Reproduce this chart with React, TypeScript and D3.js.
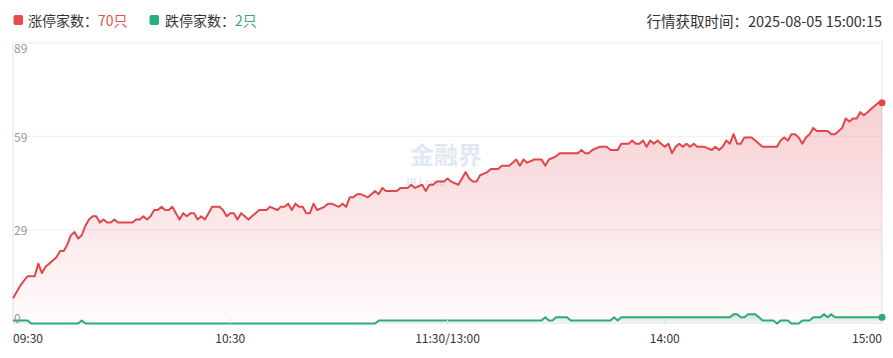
import React from "react";
import * as d3 from "d3";

// ---- data (minute index from 09:30, trading minutes 0..240) ----
const upMinutes = [0, 2, 4, 6, 7, 8, 9, 11, 12, 13, 14, 15, 16, 17, 18, 19, 20, 21, 22, 23, 24, 25, 26, 27, 28, 29, 30, 31, 33, 34, 35, 36, 37, 38, 39, 40, 41, 42, 43, 44, 45, 46, 47, 48, 49, 50, 51, 52, 53, 54, 55, 56, 57, 58, 59, 60, 61, 62, 63, 64, 65, 66, 67, 68, 69, 70, 71, 73, 74, 75, 76, 77, 78, 79, 80, 81, 82, 83, 84, 86, 87, 88, 90, 91, 92, 93, 94, 95, 96, 98, 99, 100, 101, 102, 103, 105, 106, 107, 109, 110, 111, 113, 114, 115, 116, 117, 119, 120, 121, 123, 124, 125, 126, 127, 128, 129, 131, 132, 134, 135, 136, 137, 138, 139, 140, 141, 142, 144, 145, 146, 147, 148, 150, 151, 152, 153, 155, 156, 157, 158, 159, 160, 162, 163, 164, 165, 167, 168, 170, 171, 172, 173, 174, 175, 176, 177, 178, 179, 180, 181, 182, 183, 184, 185, 186, 187, 188, 189, 191, 193, 194, 195, 196, 197, 198, 199, 200, 201, 202, 204, 205, 207, 209, 211, 212, 213, 214, 215, 216, 217, 218, 219, 220, 221, 222, 224, 225, 226, 227, 229, 230, 231, 232, 233, 234, 235, 236, 238, 239, 240];
const upValues = [8, 12, 15, 15, 19, 16, 18, 20, 21, 23, 23, 25, 28, 29, 27, 28, 31, 33, 34, 34, 32, 33, 32, 32, 33, 32, 32, 32, 32, 33, 33, 34, 33, 34, 36, 36, 37, 36, 36, 37, 35, 33, 35, 34, 35, 35, 33, 34, 33, 35, 37, 37, 37, 36, 34, 35, 35, 33, 35, 34, 33, 34, 35, 36, 36, 36, 37, 36, 37, 37, 38, 36, 38, 37, 37, 35, 35, 38, 36, 37, 38, 38, 37, 38, 37, 40, 40, 41, 41, 40, 41, 42, 41, 43, 42, 42, 42, 43, 43, 44, 43, 44, 42, 44, 44, 45, 45, 46, 45, 44, 46, 48, 46, 45, 45, 47, 48, 49, 49, 50, 50, 50, 51, 52, 50, 52, 51, 52, 52, 52, 50, 52, 53, 54, 54, 54, 54, 54, 55, 54, 54, 55, 56, 56, 56, 55, 55, 57, 57, 58, 57, 57, 58, 56, 58, 57, 58, 57, 56, 57, 54, 56, 57, 56, 57, 56, 57, 56, 56, 55, 56, 55, 56, 58, 57, 60, 57, 57, 59, 59, 58, 56, 56, 56, 58, 59, 58, 60, 60, 59, 57, 59, 60, 62, 61, 61, 61, 60, 60, 62, 65, 64, 65, 65, 67, 66, 67, 69, 70, 70];

const downMinutes = [0, 4, 5, 18, 19, 20, 100, 101, 146, 147, 148, 149, 150, 153, 154, 165, 166, 167, 168, 198, 199, 200, 201, 202, 203, 205, 206, 207, 209, 210, 211, 212, 213, 214, 215, 217, 218, 220, 221, 222, 223, 224, 225, 226, 227, 240];
const downValues = [1, 1, 0, 0, 1, 0, 0, 1, 1, 2, 1, 1, 2, 2, 1, 1, 2, 1, 2, 2, 3, 3, 2, 2, 3, 3, 2, 1, 1, 1, 0, 1, 1, 1, 0, 0, 1, 1, 2, 2, 2, 3, 2, 3, 2, 2];

const yTickValues = [0, 89 / 3, (89 * 2) / 3, 89];
const xTickMinutes = [0, 60, 120, 180, 240];
const xTickLabels = ["09:30", "10:30", "11:30/13:00", "14:00", "15:00"];

const upLabel = "涨停家数：";
const downLabel = "跌停家数：";
const upCount = "70只";
const downCount = "2只";
const timeText = "行情获取时间：2025-08-05 15:00:15";

const FONT = "'Microsoft YaHei', 'Noto Sans CJK SC', sans-serif";

export default function App() {
  const left = 13, right = 882, top = 42.7, bottom = 323.6;
  const x = d3.scaleLinear().domain([0, 240]).range([left, right]);
  const y = d3.scaleLinear().domain([0, 89]).range([bottom, top]);

  const up = upMinutes.map((m, i) => [m, upValues[i]] as [number, number]);
  const down = downMinutes.map((m, i) => [m, downValues[i]] as [number, number]);

  const line = d3.line<[number, number]>().x(d => x(d[0])).y(d => y(d[1]));
  const area = d3.area<[number, number]>().x(d => x(d[0])).y0(bottom).y1(d => y(d[1]));

  const lastUp = up[up.length - 1];
  const lastDown = down[down.length - 1];

  return (
    <svg width={893} height={358} style={{ position: "absolute", left: 0, top: 0, background: "#fff" }} fontFamily={FONT}>
      <defs>
        <linearGradient id="redFill" x1="0" y1={top} x2="0" y2={bottom} gradientUnits="userSpaceOnUse">
          <stop offset="0%" stopColor="#e2505c" stopOpacity={0.34} />
          <stop offset="100%" stopColor="#e2505c" stopOpacity={0.02} />
        </linearGradient>
        <linearGradient id="greenFill" x1="0" y1={y(3)} x2="0" y2={bottom} gradientUnits="userSpaceOnUse">
          <stop offset="0%" stopColor="#2eaa78" stopOpacity={0.25} />
          <stop offset="100%" stopColor="#2eaa78" stopOpacity={0.05} />
        </linearGradient>
      </defs>

      {/* legend */}
      <rect x={13.5} y={15} width={9.5} height={10} rx={2} fill="#e84a4e" />
      <text x={28} y={20} dominantBaseline="central" fontSize={14} fill="#333">
        {upLabel}<tspan fill="#e0564a">{upCount}</tspan>
      </text>
      <rect x={149.5} y={15} width={9.5} height={10} rx={2} fill="#27b07a" />
      <text x={165} y={20} dominantBaseline="central" fontSize={14} fill="#333">
        {downLabel}<tspan fill="#3aa57a">{downCount}</tspan>
      </text>
      <text x={882} y={20} dominantBaseline="central" textAnchor="end" fontSize={14.5} fill="#333">{timeText}</text>

      {/* grid */}
      {yTickValues.map((v, i) => (
        <line key={"g" + i} x1={left} x2={right} y1={y(v)} y2={y(v)} stroke="#eeeeee" strokeWidth={1} />
      ))}
      <line x1={left} x2={left} y1={top} y2={bottom} stroke="#e3e3e3" />
      <line x1={right} x2={right} y1={top - 2} y2={bottom} stroke="#e3e3e3" />

      {/* watermark */}
      <text x={446} y={153} textAnchor="middle" dominantBaseline="central" fontSize={24} fontWeight="bold" fill="#c9d6ea" opacity={0.55}>金融界</text>
      <text x={404} y={181} dominantBaseline="central" fontSize={10} fontWeight="bold" fill="#c9d6ea" opacity={0.55}>JRJ.com</text>

      {/* areas and lines */}
      <path d={area(up) || ""} fill="url(#redFill)" />
      <path d={area(down) || ""} fill="url(#greenFill)" />
      <path d={line(up) || ""} fill="none" stroke="#e0474c" strokeWidth={2} strokeLinejoin="round" />
      <path d={line(down) || ""} fill="none" stroke="#2eaa78" strokeWidth={2} strokeLinejoin="round" />
      <circle cx={x(lastUp[0])} cy={y(lastUp[1])} r={3.5} fill="#e0474c" />
      <circle cx={x(lastDown[0])} cy={y(lastDown[1])} r={3.5} fill="#2eaa78" />

      {/* y labels */}
      {yTickValues.map((v, i) => (
        <text key={"yl" + i} x={left + 1} y={i === 0 ? y(v) - 6 : i === yTickValues.length - 1 ? y(v) + 5 : y(v)}
          dominantBaseline="central" fontSize={12} fill="#999">{Math.floor(v + 1e-9)}</text>
      ))}

      {/* x ticks and labels */}
      {xTickMinutes.map((m, i) => (
        <g key={"xt" + i}>
          {i > 0 && i < xTickMinutes.length - 1 && (
            <line x1={x(m)} x2={x(m)} y1={bottom - 5} y2={bottom} stroke="#ddd" />
          )}
          <text x={x(m)} y={337} dominantBaseline="central" fontSize={12} fill="#333"
            textAnchor={i === 0 ? "start" : i === xTickMinutes.length - 1 ? "end" : "middle"}>{xTickLabels[i]}</text>
        </g>
      ))}
    </svg>
  );
}
